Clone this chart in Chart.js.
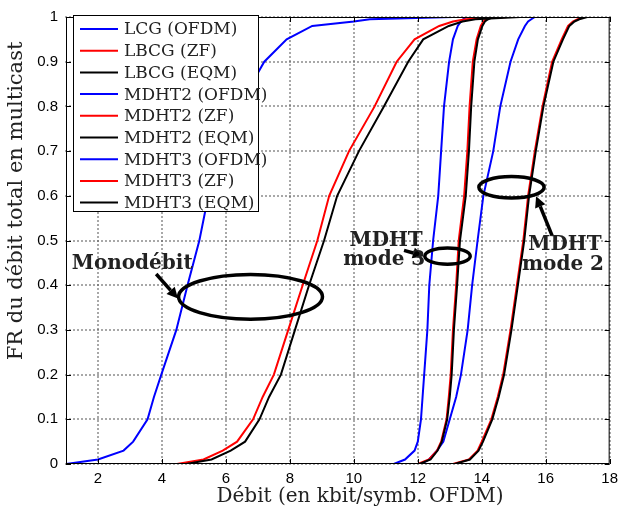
<!DOCTYPE html>
<html>
<head>
<meta charset="utf-8">
<script src="https://cdn.jsdelivr.net/npm/chart.js@4"></script>
<style>
  body { margin: 0; background: #fff; }
  canvas { display: block; }
</style>
</head>
<body>
<canvas id="cdf" width="624" height="515"></canvas>
<script>
// CDF levels shared by every curve (last entry: flat tail to the right edge)
const levels = [0, 0.01, 0.03, 0.05, 0.1, 0.15, 0.2, 0.3, 0.4, 0.5, 0.6, 0.7, 0.8, 0.9, 0.95, 0.98, 0.99, 0.995, 1, 1]

// debit (kbit/symb. OFDM) at each level
const lcgOfdm = [1.0, 2.0, 2.8, 3.1, 3.55, 3.75, 3.98, 4.45, 4.8, 5.17, 5.45, 5.85, 6.4, 7.2, 7.9, 8.7, 10.0, 10.5, 13.1, 18]
const lbcgZf = [4.47, 5.3, 5.9, 6.35, 6.85, 7.15, 7.5, 7.95, 8.4, 8.86, 9.23, 9.85, 10.65, 11.34, 11.9, 12.67, 13.1, 13.5, 14.8, 18]
const lbcgEqm = [4.75, 5.55, 6.15, 6.6, 7.05, 7.35, 7.72, 8.16, 8.6, 9.07, 9.48, 10.16, 10.94, 11.7, 12.17, 12.97, 13.4, 13.8, 15.2, 18]
const mdht2Ofdm = [12.1, 12.35, 12.6, 12.8, 13.0, 13.2, 13.35, 13.56, 13.7, 13.87, 14.05, 14.36, 14.58, 14.9, 15.14, 15.35, 15.45, 15.55, 15.66, 18]
const mdht2Zf = [13.1, 13.6, 13.87, 14.0, 14.3, 14.5, 14.67, 14.9, 15.1, 15.3, 15.45, 15.66, 15.9, 16.2, 16.5, 16.7, 16.85, 17.0, 17.2, 18]
const mdht2Eqm = [13.15, 13.63, 13.9, 14.04, 14.33, 14.53, 14.7, 14.93, 15.13, 15.33, 15.48, 15.69, 15.93, 16.24, 16.54, 16.74, 16.9, 17.05, 17.3, 18]
const mdht3Ofdm = [11.25, 11.6, 11.9, 12.0, 12.1, 12.15, 12.2, 12.3, 12.36, 12.48, 12.64, 12.73, 12.82, 12.98, 13.1, 13.25, 13.35, 13.42, 13.5, 18]
const mdht3Zf = [12.0, 12.35, 12.6, 12.73, 12.9, 12.97, 13.03, 13.1, 13.2, 13.28, 13.45, 13.55, 13.62, 13.72, 13.84, 13.97, 14.05, 14.15, 14.3, 18]
const mdht3Eqm = [12.05, 12.4, 12.62, 12.75, 12.92, 13.0, 13.06, 13.13, 13.23, 13.32, 13.5, 13.6, 13.67, 13.77, 13.88, 14.02, 14.1, 14.2, 14.35, 18]

const seriesNames = ['LCG (OFDM)', 'LBCG (ZF)', 'LBCG (EQM)', 'MDHT2 (OFDM)', 'MDHT2 (ZF)', 'MDHT2 (EQM)', 'MDHT3 (OFDM)', 'MDHT3 (ZF)', 'MDHT3 (EQM)']
const seriesValues = [lcgOfdm, lbcgZf, lbcgEqm, mdht2Ofdm, mdht2Zf, mdht2Eqm, mdht3Ofdm, mdht3Zf, mdht3Eqm]

const xTicks = [2, 4, 6, 8, 10, 12, 14, 16, 18]
const yTicks = [0, 0.1, 0.2, 0.3, 0.4, 0.5, 0.6, 0.7, 0.8, 0.9, 1]
const xTitle = 'Débit (en kbit/symb. OFDM)'
const yTitle = 'FR du débit total en multicast'

const colors = { OFDM: '#0000ff', ZF: '#ff0000', EQM: '#000000' }
const serif = "'DejaVu Serif', serif"

const colorOf = (name) => {
  if (name.includes('OFDM')) return colors.OFDM
  if (name.includes('ZF')) return colors.ZF
  return colors.EQM
}

const makeDatasets = () => {
  return seriesNames.map((name, i) => ({
    label: name,
    data: seriesValues[i].map((x, k) => ({ x: x, y: levels[k] })),
    borderColor: colorOf(name),
    backgroundColor: colorOf(name),
    borderWidth: 2,
    pointRadius: 0,
    showLine: true,
    tension: 0,
    // black on top, then red, then blue
    order: name.includes('EQM') ? 0 : name.includes('ZF') ? 1 : 2,
  }))
}

// annotations in data coordinates
const ellipses = [
  { x: 6.77, y: 0.374, rx: 2.25, ry: 0.05 },
  { x: 12.93, y: 0.465, rx: 0.71, ry: 0.018 },
  { x: 14.93, y: 0.619, rx: 1.02, ry: 0.024 },
]
const arrows = [
  { x0: 3.82, y0: 0.425, x1: 4.5, y1: 0.37 },
  { x0: 11.57, y0: 0.478, x1: 12.19, y1: 0.465 },
  { x0: 16.2, y0: 0.511, x1: 15.7, y1: 0.599 },
]
const notes = [
  { text: 'Monodébit', x: 3.07, y: 0.447 },
  { text: 'MDHT', x: 11.01, y: 0.5 },
  { text: 'mode 3', x: 10.95, y: 0.456 },
  { text: 'MDHT', x: 16.6, y: 0.491 },
  { text: 'mode 2', x: 16.54, y: 0.445 },
]

const dottedLine = (c, x0, y0, x1, y1) => {
  const len = Math.hypot(x1 - x0, y1 - y0)
  for (let d = 0; d <= len; d += 4) {
    const x = x0 + ((x1 - x0) * d) / len
    const y = y0 + ((y1 - y0) * d) / len
    c.fillRect(Math.round(x) - 0.75, Math.round(y) - 0.75, 1.5, 1.5)
  }
}

const framePlugin = {
  id: 'frame',
  beforeDatasetsDraw(chart) {
    const c = chart.ctx
    const xs = chart.scales.x
    const ys = chart.scales.y
    const a = chart.chartArea
    c.save()
    // dotted grid
    c.fillStyle = '#666'
    for (const t of xTicks) {
      const px = xs.getPixelForValue(t)
      dottedLine(c, px, a.top, px, a.bottom)
    }
    for (const t of yTicks) {
      const py = ys.getPixelForValue(t)
      dottedLine(c, a.left, py, a.right, py)
    }
    c.restore()
  },
  afterDatasetsDraw(chart) {
    const c = chart.ctx
    const xs = chart.scales.x
    const ys = chart.scales.y
    const a = chart.chartArea
    c.save()
    // ellipses
    c.strokeStyle = '#000'
    c.lineWidth = 3.5
    for (const e of ellipses) {
      const cx = xs.getPixelForValue(e.x)
      const cy = ys.getPixelForValue(e.y)
      const rx = xs.getPixelForValue(e.x + e.rx) - cx
      const ry = cy - ys.getPixelForValue(e.y + e.ry)
      c.beginPath()
      c.ellipse(cx, cy, rx, ry, 0, 0, Math.PI * 2)
      c.stroke()
    }
    // arrows
    for (const ar of arrows) {
      const x0 = xs.getPixelForValue(ar.x0)
      const y0 = ys.getPixelForValue(ar.y0)
      const x1 = xs.getPixelForValue(ar.x1)
      const y1 = ys.getPixelForValue(ar.y1)
      const ang = Math.atan2(y1 - y0, x1 - x0)
      const hl = 11
      const bx = x1 - hl * Math.cos(ang)
      const by = y1 - hl * Math.sin(ang)
      c.lineWidth = 3.5
      c.beginPath()
      c.moveTo(x0, y0)
      c.lineTo(bx, by)
      c.stroke()
      c.fillStyle = '#000'
      c.beginPath()
      c.moveTo(x1, y1)
      c.lineTo(bx + 5.5 * Math.sin(ang), by - 5.5 * Math.cos(ang))
      c.lineTo(bx - 5.5 * Math.sin(ang), by + 5.5 * Math.cos(ang))
      c.closePath()
      c.fill()
    }
    // notes
    c.fillStyle = '#222'
    c.font = 'bold 20px ' + serif
    c.textAlign = 'center'
    c.textBaseline = 'middle'
    for (const n of notes) {
      c.fillText(n.text, xs.getPixelForValue(n.x), ys.getPixelForValue(n.y))
    }
    // frame + inward ticks
    c.strokeStyle = '#000'
    c.lineWidth = 1
    c.strokeRect(a.left + 0.5, a.top + 0.5, a.right - a.left - 1, a.bottom - a.top - 1)
    c.beginPath()
    for (const t of xTicks) {
      const px = Math.round(xs.getPixelForValue(t)) + 0.5
      c.moveTo(px, a.bottom); c.lineTo(px, a.bottom - 5)
      c.moveTo(px, a.top); c.lineTo(px, a.top + 5)
    }
    for (const t of yTicks) {
      const py = Math.round(ys.getPixelForValue(t)) + 0.5
      c.moveTo(a.left, py); c.lineTo(a.left + 5, py)
      c.moveTo(a.right, py); c.lineTo(a.right - 5, py)
    }
    c.stroke()
    // axis titles
    c.fillStyle = '#222'
    c.textAlign = 'center'
    c.textBaseline = 'middle'
    c.font = '20px ' + serif
    c.fillText(xTitle, 360, 497)
    c.save()
    c.translate(17, 201)
    c.rotate(-Math.PI / 2)
    c.font = '21px ' + serif
    c.fillText(yTitle, 0, 0)
    c.restore()
    // legend box
    const lx = 73, ly = 15, lw = 185, lh = 196, row = 21.7
    c.fillStyle = '#fff'
    c.fillRect(lx, ly, lw, lh)
    c.strokeRect(lx + 0.5, ly + 0.5, lw, lh)
    c.font = '17px ' + serif
    c.textAlign = 'left'
    c.textBaseline = 'middle'
    seriesNames.forEach((name, i) => {
      const yy = ly + 14 + i * row
      c.strokeStyle = colorOf(name)
      c.lineWidth = 2
      c.beginPath()
      c.moveTo(80, yy)
      c.lineTo(118, yy)
      c.stroke()
      c.fillStyle = '#222'
      c.fillText(name, 124, yy + 1)
    })
    c.restore()
  },
}

const ctx = document.getElementById('cdf').getContext('2d')
const myChart = new Chart(ctx, {
  type: 'scatter',
  data: { datasets: makeDatasets() },
  options: {
    responsive: false,
    animation: false,
    layout: { padding: { top: 10, right: 8, left: 0, bottom: 0 } },
    scales: {
      x: {
        type: 'linear',
        min: 1,
        max: 18,
        afterBuildTicks: (scale) => { scale.ticks = xTicks.map((v) => ({ value: v })) },
        afterFit: (scale) => { scale.height = 51 },
        grid: { display: false, drawTicks: false },
        border: { display: false },
        ticks: {
          color: '#000',
          padding: 6,
          maxRotation: 0,
          font: { family: "'Liberation Sans', sans-serif", size: 15 },
        },
      },
      y: {
        type: 'linear',
        min: 0,
        max: 1,
        afterBuildTicks: (scale) => { scale.ticks = yTicks.map((v) => ({ value: v })) },
        afterFit: (scale) => { scale.width = 66 },
        grid: { display: false, drawTicks: false },
        border: { display: false },
        ticks: {
          color: '#000',
          padding: 8,
          font: { family: "'Liberation Sans', sans-serif", size: 15 },
          callback: (v) => String(v),
        },
      },
    },
    plugins: {
      legend: { display: false },
      tooltip: { enabled: false },
    },
  },
  plugins: [framePlugin],
})
</script>
</body>
</html>
